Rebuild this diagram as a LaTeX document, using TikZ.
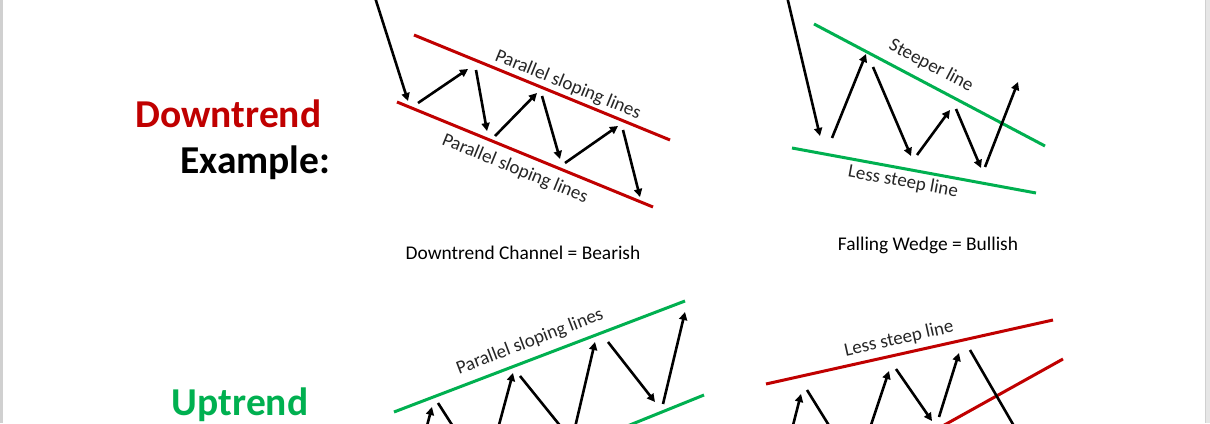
\documentclass[tikz,border=0pt]{standalone}
\usepackage{fontspec}
\setmainfont{Carlito}
\usetikzlibrary{arrows.meta}
\definecolor{offred}{HTML}{C00000}
\definecolor{offgreen}{HTML}{00B050}
\definecolor{edgegray}{HTML}{D0D0D0}
\definecolor{edgelight}{HTML}{E6E6E6}
\tikzset{
  mv/.style={draw=black, line width=2.6pt, -{Triangle[length=8pt,width=8pt]}},
  redline/.style={draw=offred, line width=3pt},
  greenline/.style={draw=offgreen, line width=3pt},
  lbl/.style={font=\fontsize{19}{22}\selectfont, text=black!85, inner sep=0pt},
  captext/.style={font=\fontsize{19.4}{22}\selectfont, text=black, inner sep=0pt},
  bigtitle/.style={font=\fontsize{39.5}{44}\selectfont\bfseries, inner sep=0pt, anchor=base east}
}
\begin{document}
\begin{tikzpicture}[x=1pt,y=-1pt]
\useasboundingbox (0,0) rectangle (1210,423);
\fill[white] (0,0) rectangle (1210,423);
\clip (0,0) rectangle (1210,423);
% page edges
\fill[edgegray] (0,0) rectangle (2.5,423);
\fill[edgelight] (1205,0) rectangle (1210,423);
\fill[edgegray] (1204.5,0) rectangle (1206,423);

% titles
\node[bigtitle, text=offred] (tdown) at (321.5,127) {Downtrend};
\node[bigtitle, text=black] (tex) at (330.5,173) {Example:};
\node[bigtitle, text=offgreen] (tup) at (308.5,415) {Uptrend};

% ---------- Downtrend channel ----------
\draw[redline] (414,35) -- (670,140);
\draw[redline] (397,102) -- (653,207);
\draw[mv] (372,-12) -- (408,101);
\draw[mv] (418,103) -- (468,69);
\draw[mv] (476,70) -- (487,131);
\draw[mv] (495,136) -- (537,93);
\draw[mv] (542,96) -- (560,159);
\draw[mv] (565,163) -- (618,126);
\draw[mv] (623,130) -- (640,197);
\node[lbl, rotate=-22.3] (l1) at (568,85) {Parallel sloping lines};
\node[lbl, rotate=-22.3] (l2) at (515,169) {Parallel sloping lines};
\node[captext] (c1) at (523,253) {Downtrend Channel = Bearish};

% ---------- Falling wedge ----------
\draw[greenline] (814,24) -- (1045,146);
\draw[greenline] (792,148) -- (1036,193);
\draw[mv] (785,-12) -- (820,136);
\draw[mv] (832,138) -- (866,54);
\draw[mv] (873,67) -- (911,156);
\draw[mv] (917,155) -- (950,110);
\draw[mv] (956,109) -- (981,168);
\draw[mv] (985,167) -- (1018,82);
\node[lbl, rotate=-27.8] (l3) at (931,66) {Steeper line};
\node[lbl, rotate=-10.4] (l4) at (903,182) {Less steep line};
\node[captext] (c2) at (928,245) {Falling Wedge = Bullish};

% ---------- Uptrend channel ----------
\draw[greenline] (394,412) -- (685,301);
\draw[greenline] (610,433) -- (704,395);
\draw[mv] (424,437) -- (432,407);
\draw[mv] (438,403) -- (463,442);
\draw[mv] (496,436) -- (513,373);
\draw[mv] (520,376) -- (566,433);
\draw[mv] (573,436) -- (595,342);
\draw[mv] (608,342) -- (655,402);
\draw[mv] (663,404) -- (685,312);
\node[lbl, rotate=20.9] (l5) at (530,342) {Parallel sloping lines};

% ---------- Rising wedge ----------
\draw[redline] (766,384) -- (1053,320);
\draw[redline] (930,433) -- (1063,359);
\draw[mv] (790,437) -- (801,394);
\draw[mv] (807,390) -- (838,440);
\draw[mv] (867,437) -- (889,371);
\draw[mv] (896,369) -- (932,421);
\draw[mv] (939,417) -- (959,353);
\draw[mv] (970,350) -- (1025,445);
\node[lbl, rotate=12.6] (l6) at (899,339) {Less steep line};
\end{tikzpicture}
\end{document}
